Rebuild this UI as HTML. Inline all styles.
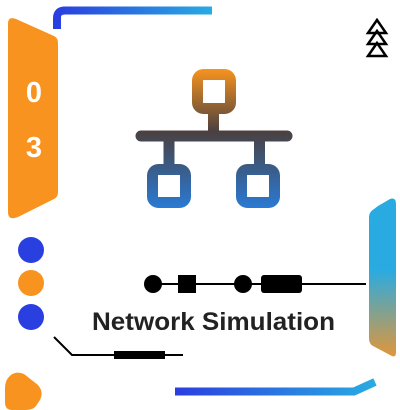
<!DOCTYPE html>
<html><head><meta charset="utf-8"><style>
html,body{margin:0;padding:0;background:#fff;width:400px;height:410px;overflow:hidden}
</style></head><body>
<svg width="400" height="410" viewBox="0 0 400 410" xmlns="http://www.w3.org/2000/svg">
<defs>
<linearGradient id="tb" x1="0" x2="1" y1="0" y2="0"><stop offset="0" stop-color="#2a3fe0"/><stop offset="1" stop-color="#29abe2"/></linearGradient>
<linearGradient id="ic" x1="0" x2="0" y1="69" y2="208" gradientUnits="userSpaceOnUse"><stop offset="0" stop-color="#f7931e"/><stop offset="0.45" stop-color="#4a4040"/><stop offset="1" stop-color="#2a7ad5"/></linearGradient>
<linearGradient id="rt" x1="0" x2="0" y1="0" y2="1"><stop offset="0" stop-color="#29abe2"/><stop offset="0.45" stop-color="#29abe2"/><stop offset="1" stop-color="#e0973a"/></linearGradient>
</defs>
<path d="M57 29 V18 Q57 10.5 65 10.5 H212" fill="none" stroke="url(#tb)" stroke-width="8"/>
<path d="M8 24 Q8 16 16 19 L54 36 Q58 38 58 43 V192 Q58 197 54 199 L18 217 Q8 221 8 212 Z" fill="#f7931e"/>
<text x="34" y="102" font-family="Liberation Sans,sans-serif" font-weight="bold" font-size="29" fill="#fff" text-anchor="middle">0</text>
<text x="34" y="157" font-family="Liberation Sans,sans-serif" font-weight="bold" font-size="29" fill="#fff" text-anchor="middle">3</text>
<g fill="none" stroke="#000" stroke-width="2.5">
<path d="M377 20 L386 33 H368 Z"/><path d="M377 31 L386 44 H368 Z"/><path d="M377 43 L386 56 H368 Z"/>
</g>
<g fill="none" stroke="url(#ic)" stroke-width="11" stroke-linecap="round">
<rect x="197.5" y="74.5" width="33" height="34" rx="6"/>
<rect x="152.5" y="169.5" width="33" height="33" rx="6"/>
<rect x="241.5" y="169.5" width="33" height="33" rx="6"/>
<line x1="213.5" y1="108" x2="213.5" y2="136" stroke-linecap="butt"/>
<line x1="141" y1="136" x2="287" y2="136"/>
<line x1="169" y1="136" x2="169" y2="166" stroke-linecap="butt"/>
<line x1="259.5" y1="136" x2="259.5" y2="166" stroke-linecap="butt"/>
</g>
<path d="M378 206 L390 199 Q396 197 396 204 V352 Q396 359 390 355 L373 346 Q369 344 369 338 V217 Q369 212 374 209 Z" fill="url(#rt)"/>
<circle cx="31" cy="250" r="13" fill="#2a3fe0"/>
<circle cx="31" cy="283" r="13" fill="#f7931e"/>
<circle cx="31" cy="317" r="13" fill="#2a3fe0"/>
<line x1="153" y1="284" x2="366" y2="284" stroke="#000" stroke-width="2"/>
<circle cx="153" cy="284" r="9"/>
<rect x="178" y="275" width="18" height="18"/>
<circle cx="243" cy="284" r="9"/>
<rect x="261" y="275" width="41" height="18" rx="3"/>
<text x="92" y="330" font-family="Liberation Sans,sans-serif" font-weight="bold" font-size="25" fill="#222" textLength="243" lengthAdjust="spacingAndGlyphs">Network Simulation</text>
<path d="M54 337 L72 355 H183" fill="none" stroke="#000" stroke-width="2"/>
<rect x="114" y="351" width="51" height="8"/>
<path d="M8 378 Q14 370 24 374 L38 385 Q44 392 40 400 L36 406 Q33 410 25 410 H12 Q5 410 5 402 V388 Q5 382 8 378 Z" fill="#f7931e"/>
<path d="M175 391.5 H354 L375 382" fill="none" stroke="url(#tb)" stroke-width="8"/>
</svg>
</body></html>
